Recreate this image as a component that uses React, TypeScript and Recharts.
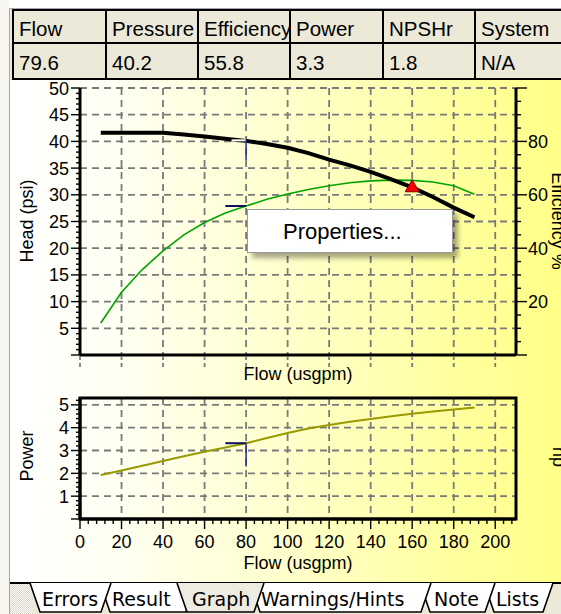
import React from 'react';
import {
  ComposedChart,
  Line,
  XAxis,
  YAxis,
  CartesianGrid,
  ReferenceLine,
  ReferenceDot,
  ReferenceArea,
} from 'recharts';

// ---------- data ----------
const flowValues = [10, 20, 30, 40, 50, 60, 70, 80, 90, 100, 110, 120, 130, 140, 150, 160, 170, 180, 190];
const headValues = [41.6, 41.6, 41.6, 41.6, 41.3, 40.9, 40.5, 40.1, 39.5, 38.8, 37.8, 36.6, 35.5, 34.3, 32.9, 31.4, 29.6, 27.6, 25.8];
const efficiencyValues = [12, 23.5, 32, 39, 45, 49.6, 53.2, 55.8, 58.3, 60.3, 62, 63.4, 64.5, 65.2, 65.5, 65.4, 64.8, 63.4, 60.2];
const powerValues = [1.93, 2.12, 2.33, 2.54, 2.75, 2.95, 3.13, 3.32, 3.55, 3.77, 3.96, 4.12, 4.26, 4.38, 4.5, 4.61, 4.71, 4.8, 4.88];

const flowLabelTicks = [0, 20, 40, 60, 80, 100, 120, 140, 160, 180, 200];
const flowGridValues = [20, 40, 60, 80, 100, 120, 140, 160, 180, 200];
const headGridValues = [5, 10, 15, 20, 25, 30, 35, 40, 45, 50];
const powerGridValues = [1, 2, 3, 4, 5];

const tableHeaders = ['Flow', 'Pressure', 'Efficiency', 'Power', 'NPSHr', 'System'];
const tableValues = ['79.6', '40.2', '55.8', '3.3', '1.8', 'N/A'];
const tabLabels = ['Errors', 'Result', 'Graph', 'Warnings/Hints', 'Note', 'Lists'];
const selectedTab = 'Graph';

// operating point and cursor
const operatingFlow = 160;
const operatingHead = 31.5;
const cursorFlow = 80;
const cursorFromFlow = 70;
const cursorHead = 40.2;
const cursorHeadLow = 36.5;
const cursorEff = 55.8;
const cursorPower = 3.32;
const cursorPowerLow = 2.3;

const range = (start: number, end: number, step: number) => {
  const out: number[] = [];
  for (let i = 0; start + i * step <= end + 1e-9; i++) out.push(Math.round((start + i * step) * 1000) / 1000);
  return out;
};
const headMinorTicks = range(0, 50, 1);
const effMinorTicks = range(0, 100, 5);
const powerMinorTicks = range(0, 5.2, 0.2);
const flowMinorTicks = range(0, 208, 4);

const pumpData = flowValues.map((f, i) => ({
  flow: f,
  head: headValues[i],
  eff: efficiencyValues[i],
  power: powerValues[i],
}));

// ---------- styles ----------
const SANS = '"Liberation Sans", Arial, sans-serif';
const TAB_FONT = '"DejaVu Sans", Verdana, sans-serif';
const GRID = '#7a7a7a';
const isInt = (v: number, m: number) => Math.abs(v / m - Math.round(v / m)) < 1e-6;

// ---------- ticks ----------
const HeadTick = (props: any) => {
  const { x, y, payload } = props;
  const v = payload.value as number;
  const major = isInt(v, 5);
  return (
    <g>
      <line x1={x - (major ? 9 : 4)} x2={x} y1={y} y2={y} stroke="#000" strokeWidth={1.4} />
      {major && v > 0 && (
        <text x={x - 11} y={y} dy={6.5} textAnchor="end" fontSize={18} fontFamily={SANS} fill="#000">
          {v}
        </text>
      )}
    </g>
  );
};

const EffTick = (props: any) => {
  const { x, y, payload } = props;
  const v = payload.value as number;
  const major = isInt(v, 20);
  return (
    <g>
      <line x1={x} x2={x + (major ? 11 : 5)} y1={y} y2={y} stroke="#000" strokeWidth={1.4} />
      {major && v > 0 && v < 100 && (
        <text x={x + 12} y={y} dy={6.5} textAnchor="start" fontSize={18} fontFamily={SANS} fill="#000">
          {v}
        </text>
      )}
    </g>
  );
};

const TopFlowTick = (props: any) => {
  const { x, y } = props;
  return <line x1={x} x2={x} y1={y + 1} y2={y + 12} stroke={GRID} strokeWidth={1.8} strokeDasharray="4 3" />;
};

const PowerTick = (props: any) => {
  const { x, y, payload } = props;
  const v = payload.value as number;
  const major = isInt(v, 1);
  return (
    <g>
      <line x1={x - (major ? 9 : 4)} x2={x} y1={y} y2={y} stroke="#000" strokeWidth={1.4} />
      {major && v > 0 && (
        <text x={x - 11} y={y} dy={6.5} textAnchor="end" fontSize={18} fontFamily={SANS} fill="#000">
          {v}
        </text>
      )}
    </g>
  );
};

const BottomFlowTick = (props: any) => {
  const { x, y, payload } = props;
  const v = payload.value as number;
  const major = isInt(v, 20);
  return (
    <g>
      <line x1={x} x2={x} y1={y} y2={y + (major ? 10 : 5)} stroke="#000" strokeWidth={1.4} />
      {major && (
        <text x={x} y={y} dy={29} textAnchor="middle" fontSize={18} fontFamily={SANS} fill="#000">
          {v}
        </text>
      )}
    </g>
  );
};

const Triangle = (props: any) => {
  const { cx, cy } = props;
  return (
    <polygon
      points={`${cx},${cy - 7} ${cx - 7},${cy + 5} ${cx + 7},${cy + 5}`}
      fill="#FF0000"
      stroke="#7a0000"
      strokeWidth={1}
    />
  );
};

// ---------- tabs layout ----------
const tabShapes = [
  { x0: 30, x1: 111, tx: 42 },
  { x0: 100, x1: 196, tx: 112 },
  { x0: 177, x1: 264, tx: 192 },
  { x0: 250, x1: 431, tx: 261 },
  { x0: 420, x1: 495, tx: 434 },
  { x0: 484, x1: 553, tx: 496 },
];
const tabDrawOrder = [5, 4, 3, 1, 0, 2];

const colX = [12, 105, 197, 289, 382, 474, 566];

export default function App() {
  const tabTop = 583;
  const tabBottom = 612;
  const slant = 10;
  return (
    <div
      style={{
        position: 'absolute',
        left: 0,
        top: 0,
        width: 561,
        height: 614,
        overflow: 'hidden',
        background: '#ECE9D8',
        fontFamily: SANS,
      }}
    >
      <div style={{ position: 'absolute', left: 0, top: 0, width: 561, height: 8, background: '#FFFFFF' }} />
      <div style={{ position: 'absolute', left: 0, top: 0, width: 9, height: 614, background: '#F7F6F1' }} />
      <div
        style={{
          position: 'absolute',
          left: 9,
          top: 8,
          width: 560,
          height: 620,
          borderLeft: '1px solid #A7A6AA',
          borderTop: '1px solid #A7A6AA',
        }}
      />

      {/* data table */}
      {tableHeaders.map((h, i) => (
        <div
          key={'h' + h}
          style={{
            position: 'absolute',
            left: colX[i],
            top: 9,
            width: colX[i + 1] - colX[i] + 2,
            height: 35,
            border: '2px solid #000',
            boxSizing: 'border-box',
            background: '#ECE9D8',
            overflow: 'hidden',
            whiteSpace: 'nowrap',
          }}
        >
          <span style={{ position: 'absolute', left: 5, top: 6, fontSize: 20.5, lineHeight: '24px', color: '#000' }}>{h}</span>
        </div>
      ))}
      {tableValues.map((v, i) => (
        <div
          key={'v' + i}
          style={{
            position: 'absolute',
            left: colX[i],
            top: 42,
            width: colX[i + 1] - colX[i] + 2,
            height: 38,
            border: '2px solid #000',
            boxSizing: 'border-box',
            background: '#ECE9D8',
            overflow: 'hidden',
            whiteSpace: 'nowrap',
          }}
        >
          <span style={{ position: 'absolute', left: 5, top: 7, fontSize: 20.5, lineHeight: '24px', color: '#000' }}>{v}</span>
        </div>
      ))}

      {/* chart panel background */}
      <div
        style={{
          position: 'absolute',
          left: 10,
          top: 80,
          width: 551,
          height: 503,
          background:
            'linear-gradient(to right, #FFFFFF 0%, #FFFFF2 20%, #FFFFCC 50%, #FFFFA0 80%, #FFFF88 100%)',
        }}
      />

      {/* top chart: head + efficiency */}
      <div style={{ position: 'absolute', left: 0, top: 0 }}>
        <ComposedChart width={561} height={400} data={pumpData} margin={{ top: 88, right: 0, bottom: 15, left: 20 }}>
          <CartesianGrid
            yAxisId="head"
            horizontalValues={headGridValues}
            verticalValues={flowGridValues}
            stroke={GRID}
            strokeWidth={1.8}
            strokeDasharray="7 5"
            fill="none"
          />
          <XAxis
            type="number"
            dataKey="flow"
            domain={[0, 210]}
            ticks={flowLabelTicks}
            interval={0}
            height={30}
            tickSize={0}
            tickMargin={0}
            tickLine={false}
            axisLine={{ stroke: '#000', strokeWidth: 3 }}
            tick={TopFlowTick}
          />
          <YAxis
            yAxisId="head"
            domain={[0, 50]}
            ticks={headMinorTicks}
            interval={0}
            width={60}
            tickSize={0}
            tickMargin={0}
            tickLine={false}
            axisLine={{ stroke: '#000', strokeWidth: 3 }}
            tick={HeadTick}
          />
          <YAxis
            yAxisId="eff"
            orientation="right"
            domain={[0, 100]}
            ticks={effMinorTicks}
            interval={0}
            width={45}
            tickSize={0}
            tickMargin={0}
            tickLine={false}
            axisLine={{ stroke: '#000', strokeWidth: 3 }}
            tick={EffTick}
          />
          <Line
            yAxisId="eff"
            type="linear"
            dataKey="eff"
            stroke="#00A300"
            strokeWidth={1.6}
            dot={false}
            isAnimationActive={false}
          />
          <Line
            yAxisId="head"
            type="linear"
            dataKey="head"
            stroke="#000000"
            strokeWidth={4}
            dot={false}
            isAnimationActive={false}
          />
          <ReferenceLine
            yAxisId="head"
            segment={[
              { x: cursorFromFlow + 3, y: cursorHead },
              { x: cursorFlow, y: cursorHead },
            ]}
            stroke="#FFFFFF"
            strokeWidth={2}
          />
          <ReferenceLine
            yAxisId="head"
            segment={[
              { x: cursorFlow, y: cursorHead },
              { x: cursorFlow, y: cursorHeadLow },
            ]}
            stroke="#2a2a90"
            strokeWidth={1.5}
          />
          <ReferenceLine
            yAxisId="eff"
            segment={[
              { x: cursorFromFlow, y: cursorEff },
              { x: cursorFlow, y: cursorEff },
            ]}
            stroke="#101060"
            strokeWidth={2}
          />
          <ReferenceDot
            yAxisId="head"
            x={operatingFlow}
            y={operatingHead}
            r={7}
            shape={Triangle}
          />
        </ComposedChart>
      </div>

      {/* bottom chart: power */}
      <div style={{ position: 'absolute', left: 0, top: 380 }}>
        <ComposedChart width={561} height={200} data={pumpData} margin={{ top: 18, right: 45, bottom: 31, left: 20 }}>
          <CartesianGrid
            yAxisId="power"
            horizontalValues={powerGridValues}
            verticalValues={flowGridValues}
            stroke={GRID}
            strokeWidth={1.8}
            strokeDasharray="7 5"
            fill="none"
          />
          <XAxis
            type="number"
            dataKey="flow"
            domain={[0, 210]}
            ticks={flowMinorTicks}
            interval={0}
            height={30}
            tickSize={0}
            tickMargin={0}
            tickLine={false}
            axisLine={{ stroke: '#000', strokeWidth: 3 }}
            tick={BottomFlowTick}
          />
          <YAxis
            yAxisId="power"
            domain={[0, 5.3]}
            ticks={powerMinorTicks}
            interval={0}
            width={60}
            tickSize={0}
            tickMargin={0}
            tickLine={false}
            axisLine={{ stroke: '#000', strokeWidth: 3 }}
            tick={PowerTick}
          />
          <ReferenceArea
            yAxisId="power"
            x1={0}
            x2={210}
            y1={0}
            y2={5.3}
            fill="none"
            fillOpacity={0}
            stroke="#000"
            strokeWidth={3}
          />
          <Line
            yAxisId="power"
            type="linear"
            dataKey="power"
            stroke="#999900"
            strokeWidth={2}
            dot={false}
            isAnimationActive={false}
          />
          <ReferenceLine
            yAxisId="power"
            segment={[
              { x: cursorFromFlow, y: cursorPower },
              { x: cursorFlow, y: cursorPower },
            ]}
            stroke="#101060"
            strokeWidth={2}
          />
          <ReferenceLine
            yAxisId="power"
            segment={[
              { x: cursorFlow, y: cursorPower },
              { x: cursorFlow, y: cursorPowerLow },
            ]}
            stroke="#2a2a90"
            strokeWidth={1.5}
          />
        </ComposedChart>
      </div>

      {/* axis titles */}
      <svg
        width={561}
        height={614}
        style={{ position: 'absolute', left: 0, top: 0, pointerEvents: 'none' }}
        fontFamily={SANS}
      >
        <text x={33} y={221} fontSize={18} textAnchor="middle" transform="rotate(-90 33 221)" fill="#000">
          Head (psi)
        </text>
        <text x={33} y={456} fontSize={18} textAnchor="middle" transform="rotate(-90 33 456)" fill="#000">
          Power
        </text>
        <text x={552} y={221} fontSize={18} textAnchor="middle" transform="rotate(90 552 221)" fill="#000">
          Efficiency %
        </text>
        <text x={553} y={457} fontSize={18} textAnchor="middle" transform="rotate(90 553 457)" fill="#000">
          hp
        </text>
        <text x={298} y={380} fontSize={18} textAnchor="middle" fill="#000">
          Flow (usgpm)
        </text>
        <text x={298} y={569} fontSize={18} textAnchor="middle" fill="#000">
          Flow (usgpm)
        </text>
      </svg>

      {/* context menu */}
      <div
        style={{
          position: 'absolute',
          left: 247,
          top: 209,
          width: 206,
          height: 44,
          background: '#FFFFFF',
          border: '1px solid #9A9A9A',
          boxSizing: 'border-box',
          boxShadow: '5px 5px 5px rgba(0,0,0,0.35)',
        }}
      >
        <span
          style={{
            position: 'absolute',
            left: 35,
            top: 10,
            fontSize: 22,
            lineHeight: '24px',
            color: '#000',
            whiteSpace: 'nowrap',
          }}
        >
          Properties...
        </span>
      </div>

      {/* tab strip */}
      <svg width={561} height={614} style={{ position: 'absolute', left: 0, top: 0 }}>
        <defs>
          <pattern id="dither" width="2" height="2" patternUnits="userSpaceOnUse">
            <rect width="2" height="2" fill="#D8D5C8" />
            <rect width="1" height="1" fill="#FFFFFF" />
            <rect x="1" y="1" width="1" height="1" fill="#FFFFFF" />
          </pattern>
        </defs>
        <rect x={10} y={tabTop} width={551} height={31} fill="#ECE9D8" />
        <rect x={11} y={tabTop} width={22} height={31} fill="url(#dither)" />
        <line x1={10} x2={561} y1={tabTop} y2={tabTop} stroke="#000" strokeWidth={2} />
        {tabDrawOrder.map((idx) => {
          const s = tabShapes[idx];
          const label = tabLabels[idx];
          const selected = label === selectedTab;
          const pts = `${s.x0},${tabTop} ${s.x0 + slant},${tabBottom} ${s.x1 - slant},${tabBottom} ${s.x1},${tabTop}`;
          return (
            <g key={label}>
              <polygon points={pts} fill={selected ? '#EEECE1' : '#FFFFFF'} stroke="none" />
              <polyline points={pts} fill="none" stroke="#000" strokeWidth={1.6} />
              <text x={s.tx} y={606} fontSize={19} fontFamily={TAB_FONT} fill="#000">
                {label}
              </text>
            </g>
          );
        })}
      </svg>
    </div>
  );
}
